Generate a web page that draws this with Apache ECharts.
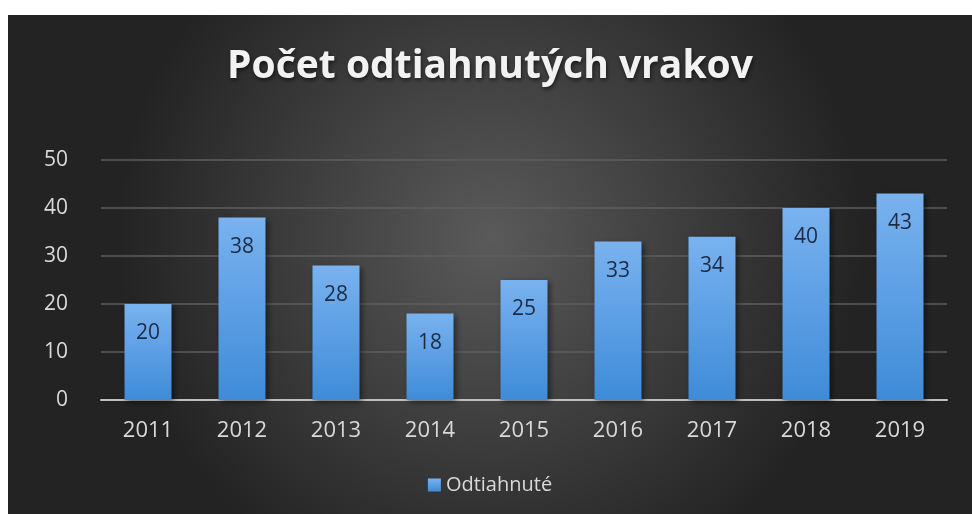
<!DOCTYPE html>
<html>
<head>
<meta charset="utf-8">
<script src="https://cdn.jsdelivr.net/npm/echarts@6/dist/echarts.min.js"></script>
<style>
    html, body {margin: 0; padding: 0; background: #fff;}
    #main {position: absolute; left: 8px; top: 15px; width: 964px; height: 499px;}
</style>
</head>
<body>
<div id="main"></div>
<script>
    var years = ['2011', '2012', '2013', '2014', '2015', '2016', '2017', '2018', '2019'];
    var towed = [20, 38, 28, 18, 25, 33, 34, 40, 43];

    var chart = echarts.init(document.getElementById('main'));
    chart.setOption({
        backgroundColor: {
            type: 'radial', x: 0.5, y: 0.45, r: 0.75,
            colorStops: [{offset: 0, color: '#5a5a5a'}, {offset: 1, color: '#232323'}]
        },
        textStyle: {fontFamily: '"Open Sans", "Noto Sans", sans-serif'},
        title: {
            text: 'Počet odtiahnutých vrakov', left: 'center', top: 27,
            textStyle: {
                color: '#f2f2f2', fontSize: 39, fontWeight: 'bold',
                fontFamily: '"Open Sans", sans-serif',
                textShadowColor: 'rgba(0,0,0,0.6)', textShadowBlur: 4, textShadowOffsetX: 1, textShadowOffsetY: 2
            }
        },
        legend: {
            bottom: 14, left: 'center', itemWidth: 13, itemHeight: 13, itemGap: 4,
            icon: 'rect',
            textStyle: {color: '#d9d9d9', fontSize: 20, padding: [0, 0, 0, 0]}
        },
        grid: {left: 93, right: 25, top: 145, bottom: 114},
        xAxis: {
            type: 'category', data: years,
            axisLine: {lineStyle: {color: '#bfbfbf', width: 2}},
            axisTick: {show: false},
            axisLabel: {color: '#d9d9d9', fontSize: 22, margin: 20}
        },
        yAxis: {
            type: 'value', min: 0, max: 50, interval: 10,
            axisLine: {show: false},
            axisTick: {show: false},
            axisLabel: {color: '#d9d9d9', fontSize: 21, margin: 33},
            splitLine: {lineStyle: {color: '#5e5e5e', width: 1.5}}
        },
        series: [{
            name: 'Odtiahnuté', type: 'bar', data: towed, barWidth: '50%',
            itemStyle: {
                color: {
                    type: 'linear', x: 0, y: 0, x2: 0, y2: 1,
                    colorStops: [{offset: 0, color: '#79b2ef'}, {offset: 1, color: '#3f8bd8'}]
                },
                shadowColor: 'rgba(0,0,0,0.5)', shadowBlur: 6, shadowOffsetX: 2, shadowOffsetY: 2
            },
            label: {
                show: true, position: 'insideTop', distance: 19,
                color: '#1d2b45', fontSize: 21
            }
        }]
    });
</script>
</body>
</html>
